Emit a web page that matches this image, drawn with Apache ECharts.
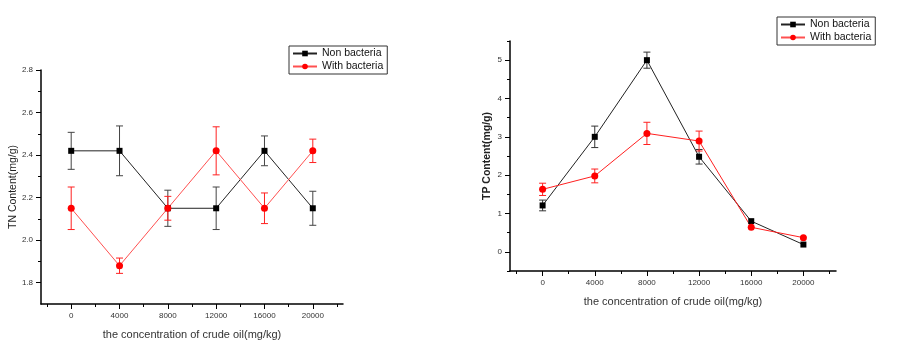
<!DOCTYPE html>
<html>
<head>
<meta charset="utf-8">
<script src="https://cdn.jsdelivr.net/npm/echarts@6/dist/echarts.min.js"></script>
<style>html,body{margin:0;padding:0;background:#fff}#c{width:898px;height:358px}</style>
</head>
<body>
<div id="c"></div>
<script>
// ---- data ----
var concentrations = [0, 4000, 8000, 12000, 16000, 20000];
var xMajorTicks = [0, 4000, 8000, 12000, 16000, 20000];
var xMinorTicks = [-2000, 2000, 6000, 10000, 14000, 18000, 22000];

// TN chart (left)
var tnNon = [2.42, 2.42, 2.15, 2.15, 2.42, 2.15];
var tnNonErr = [0.087, 0.117, 0.085, 0.10, 0.07, 0.08];
var tnWith = [2.15, 1.88, 2.15, 2.42, 2.15, 2.42];
var tnWithErr = [0.10, 0.036, 0.056, 0.113, 0.072, 0.055];
var tnMajorTicks = [1.8, 2.0, 2.2, 2.4, 2.6, 2.8];
var tnMinorTicks = [1.9, 2.1, 2.3, 2.5, 2.7];

// TP chart (right)
var tpNon = [1.21, 3.0, 5.0, 2.48, 0.80, 0.19];
var tpNonErr = [0.14, 0.28, 0.21, 0.19, 0, 0];
var tpWith = [1.63, 1.98, 3.09, 2.89, 0.64, 0.37];
var tpWithErr = [0.16, 0.18, 0.29, 0.26, 0, 0];
var tpMajorTicks = [0, 1, 2, 3, 4, 5];
var tpMinorTicks = [-0.5, 0.5, 1.5, 2.5, 3.5, 4.5, 5.5];

var seriesNames = ['Non bacteria', 'With bacteria'];
var xTitle = 'the concentration of crude oil(mg/kg)';

function pts(xs, ys) { return xs.map(function (x, i) { return [x, ys[i]]; }); }
function errs(xs, ys, es) {
  var out = [];
  xs.forEach(function (x, i) { if (es[i] > 0) out.push([x, ys[i] - es[i], ys[i] + es[i]]); });
  return out;
}
function errSeries(data, color, xi, yi) {
  return {
    type: 'custom', xAxisIndex: xi, yAxisIndex: yi, silent: true, z: 1,
    data: data,
    renderItem: function (params, api) {
      var lo = api.coord([api.value(0), api.value(1)]);
      var hi = api.coord([api.value(0), api.value(2)]);
      var w = 3.5;
      var st = { stroke: color, lineWidth: 1 };
      return { type: 'group', children: [
        { type: 'line', shape: { x1: lo[0], y1: lo[1], x2: hi[0], y2: hi[1] }, style: st },
        { type: 'line', shape: { x1: lo[0] - w, y1: lo[1], x2: lo[0] + w, y2: lo[1] }, style: st },
        { type: 'line', shape: { x1: hi[0] - w, y1: hi[1], x2: hi[0] + w, y2: hi[1] }, style: st }
      ]};
    }
  };
}

var FONT = 'Liberation Sans';
var labelStyle = { color: '#333', fontSize: 8, fontFamily: FONT };

function xAxes(gi) {
  return [
    { type: 'value', gridIndex: gi, min: -2500, max: 22500, position: 'bottom',
      axisLine: { show: true, onZero: false, lineStyle: { color: '#000', width: 1.5 } },
      axisTick: { show: true, length: 5, customValues: xMajorTicks, lineStyle: { color: '#000' } },
      axisLabel: { customValues: xMajorTicks, margin: 8, formatter: function (v) { return String(v); }, ...labelStyle },
      splitLine: { show: false },
      name: xTitle, nameLocation: 'middle', nameGap: 25, nameMoveOverlap: false,
      nameTextStyle: { color: '#333', fontSize: 11, fontFamily: FONT } },
    { type: 'value', gridIndex: gi, min: -2500, max: 22500, position: 'bottom',
      axisLine: { show: false, onZero: false },
      axisTick: { show: true, length: 3, customValues: xMinorTicks, lineStyle: { color: '#000' } },
      axisLabel: { show: false }, splitLine: { show: false } }
  ];
}
function yAxes(gi, min, max, major, minor, title, bold, gap, dec) {
  return [
    { type: 'value', gridIndex: gi, min: min, max: max, position: 'left',
      axisLine: { show: true, onZero: false, lineStyle: { color: '#000', width: 1.5 } },
      axisTick: { show: true, length: 5, customValues: major, lineStyle: { color: '#000' } },
      axisLabel: { customValues: major, margin: 8, formatter: function (v) { return v.toFixed(dec); }, ...labelStyle },
      splitLine: { show: false },
      name: title, nameLocation: 'middle', nameGap: gap, nameRotate: 90, nameMoveOverlap: false,
      nameTextStyle: { color: '#222', fontSize: 10.5, fontFamily: FONT, fontWeight: bold ? 'bold' : 'normal' } },
    { type: 'value', gridIndex: gi, min: min, max: max, position: 'left',
      axisLine: { show: false, onZero: false },
      axisTick: { show: true, length: 3, customValues: minor, lineStyle: { color: '#000' } },
      axisLabel: { show: false }, splitLine: { show: false } }
  ];
}

function legend(left, top) {
  return {
    orient: 'vertical', left: left, top: top, data: seriesNames,
    borderColor: '#333', borderWidth: 1, padding: [2, 4, 2, 3], itemGap: 2,
    itemWidth: 24, itemHeight: 7, selectedMode: false,
    textStyle: { fontSize: 10.5, fontFamily: FONT, color: '#111' }
  };
}

function lineSeries(name, data, color, lineColor, symbol, size, xi, yi) {
  return { type: 'line', name: name, data: data, xAxisIndex: xi, yAxisIndex: yi,
    symbol: symbol, symbolSize: size, showAllSymbol: true, z: 3,
    itemStyle: { color: color }, lineStyle: { color: lineColor, width: 1 },
    emphasis: { disabled: true }, animation: false };
}

var chart = echarts.init(document.getElementById('c'));
chart.setOption({
  animation: false,
  backgroundColor: '#fff',
  grid: [
    { left: 41, right: 555, top: 70, bottom: 54 },
    { left: 510, right: 62, top: 41, bottom: 87 }
  ],
  legend: [legend(289, 46), legend(777, 17)],
  xAxis: xAxes(0).concat(xAxes(1)),
  yAxis: yAxes(0, 1.7, 2.8, tnMajorTicks, tnMinorTicks, 'TN Content(mg/g)', false, 22, 1)
    .concat(yAxes(1, -0.5, 5.5, tpMajorTicks, tpMinorTicks, 'TP Content(mg/g)', true, 17, 0)),
  series: [
    errSeries(errs(concentrations, tnNon, tnNonErr), '#444', 0, 0),
    errSeries(errs(concentrations, tnWith, tnWithErr), '#ff2020', 0, 0),
    lineSeries(seriesNames[0], pts(concentrations, tnNon), '#000', '#222', 'rect', 6, 0, 0),
    lineSeries(seriesNames[1], pts(concentrations, tnWith), '#ff0000', '#ff5050', 'circle', 7, 0, 0),
    errSeries(errs(concentrations, tpNon, tpNonErr), '#333', 2, 2),
    errSeries(errs(concentrations, tpWith, tpWithErr), '#ff2020', 2, 2),
    lineSeries(seriesNames[0], pts(concentrations, tpNon), '#000', '#222', 'rect', 6, 2, 2),
    lineSeries(seriesNames[1], pts(concentrations, tpWith), '#ff0000', '#ff2020', 'circle', 7, 2, 2)
  ]
});
</script>
</body>
</html>
